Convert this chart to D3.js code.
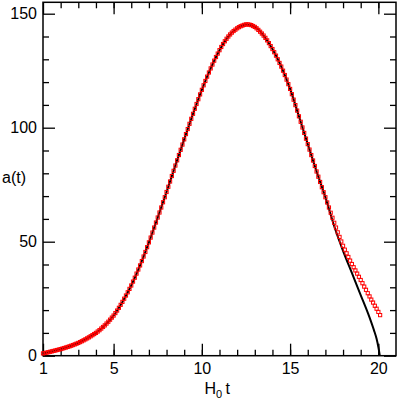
<!DOCTYPE html>
<html>
<head>
<meta charset="utf-8">
<script src="https://cdn.jsdelivr.net/npm/d3@7"></script>
<style>
  html, body { margin: 0; padding: 0; background: #fff; }
  svg { display: block; }
  text { font-family: "Liberation Sans", Arial, Helvetica, sans-serif; }
</style>
</head>
<body>
<svg id="chart" width="399" height="401"></svg>
<script>
// ---- data ----
// red markers: a(t) sampled every 0.1 in t, from t = 1.0 to 20.1
const redStart = 1.0;
const redStep = 0.1;
const redA = [
  1.0,1.17,1.35,1.53,1.71, 1.9,2.09,2.29,2.49,2.69,
  2.9,3.13,3.36,3.6,3.85, 4.1,4.38,4.67,4.97,5.28,
  5.6,5.97,6.35,6.75,7.17, 7.6,8.05,8.52,9.0,9.5,
  10.0,10.6,11.2,11.9,12.6, 13.3,14.1,14.9,15.8,16.7,
  17.6,18.7,19.8,21.0,22.3, 23.6,25.0,26.4,27.8,29.3,
  30.8,32.5,34.2,36.0,37.8, 39.6,41.5,43.5,45.5,47.6,
  49.7,51.8,54.0,56.2,58.4, 60.6,62.8,65.0,67.3,69.5,
  71.8,74.1,76.4,78.8,81.1, 83.4,85.7,88.0,90.3,92.6,
  94.9,97.2,99.4,101.7,103.9, 106.1,108.3,110.4,112.5,114.6,
  116.6,118.6,120.5,122.4,124.2, 126.0,127.7,129.4,131.0,132.5,
  134.0,135.4,136.7,137.9,139.0, 140.0,140.9,141.7,142.4,143.0,
  143.6,144.1,144.5,144.8,145.1, 145.3,145.3,145.2,145.0,144.6,
  144.2,143.6,142.9,142.1,141.3, 140.4,139.4,138.3,137.1,135.8,
  134.5,133.1,131.6,130.0,128.4, 126.8,125.0,123.1,121.1,119.1,
  117.0,114.7,112.3,109.9,107.5, 105.0,102.6,100.1,97.7,95.2,
  92.8,90.4,88.0,85.6,83.2, 80.8,78.5,76.2,73.9,71.7,
  69.5,67.2,65.0,62.7,60.5, 58.3,56.2,54.1,52.1,50.1,
  48.2,46.5,44.9,43.3,41.7, 40.2,38.8,37.4,36.0,34.6,
  33.2,31.8,30.3,28.9,27.4, 26.0,24.6,23.3,21.9,20.6,
  19.2,17.8
];

// black solid curve
const blackT = [1.0,1.5,2.0,2.5,3.0,3.5,4.0,4.5,5.0,5.5,6.0,6.5,7.0,7.5,8.0,8.5,9.0,9.5,
  10.0,10.5,11.0,11.5,12.0,12.5,13.0,13.5,14.0,14.5,15.0,15.5,16.0,16.5,17.0,17.5,
  18.0,18.5,19.0,19.5,19.75,19.9,20.0,20.05,20.08];
const blackA = [1.0,1.9,2.9,4.1,5.6,7.6,10.0,13.3,17.6,23.6,30.8,39.6,49.7,60.6,71.8,83.4,94.9,106.1,
  116.6,126.0,134.0,140.0,143.6,145.3,144.2,140.4,134.5,126.8,117.0,105.0,92.8,80.8,69.5,56.8,
  46.0,36.3,26.6,16.8,11.2,7.4,3.8,1.6,0.0];

// axes
const xDomain = [1, 21];
const yDomain = [0, 155];
const xMajor = [1, 5, 10, 15, 20];
const xMinor = d3.range(2, 21, 1);
const yMajor = [0, 50, 100, 150];
const yMinor = d3.range(10, 155, 10);
const xTitle = "H";
const xTitleSub = "0";
const xTitleRest = "t";
const yTitle = "a(t)";

// ---- drawing ----
const svg = d3.select("#chart");
const L = 43, R = 396, T = 2.3, B = 355.7;
const x = d3.scaleLinear().domain(xDomain).range([L, R]);
const y = d3.scaleLinear().domain(yDomain).range([B, T]);

const MAJ = 12, MIN = 6;
function styleAxis(g) {
  g.select(".domain").remove();
  g.selectAll("line").attr("stroke", "#000").attr("stroke-width", 1.3);
  g.selectAll("text").attr("fill", "#000").attr("font-size", 16)
    .attr("font-family", "'Liberation Sans', Arial, sans-serif");
}

// bottom
svg.append("g").attr("transform", `translate(0,${B})`)
  .call(d3.axisBottom(x).tickValues(xMinor).tickSize(-MIN).tickFormat(""))
  .call(styleAxis);
svg.append("g").attr("transform", `translate(0,${B})`)
  .call(d3.axisBottom(x).tickValues(xMajor).tickSize(-MAJ).tickPadding(7).tickFormat(d3.format("d")))
  .call(styleAxis);
// top
svg.append("g").attr("transform", `translate(0,${T})`)
  .call(d3.axisTop(x).tickValues(xMinor).tickSize(-MIN).tickFormat(""))
  .call(styleAxis);
svg.append("g").attr("transform", `translate(0,${T})`)
  .call(d3.axisTop(x).tickValues(xMajor).tickSize(-MAJ).tickFormat(""))
  .call(styleAxis);
// left
svg.append("g").attr("transform", `translate(${L},0)`)
  .call(d3.axisLeft(y).tickValues(yMinor.filter(v => v % 50 !== 0)).tickSize(-MIN).tickFormat(""))
  .call(styleAxis);
svg.append("g").attr("transform", `translate(${L},0)`)
  .call(d3.axisLeft(y).tickValues(yMajor).tickSize(-MAJ).tickPadding(6).tickFormat(d3.format("d")))
  .call(styleAxis);
// right
svg.append("g").attr("transform", `translate(${R},0)`)
  .call(d3.axisRight(y).tickValues(yMinor.filter(v => v % 50 !== 0)).tickSize(-MIN).tickFormat(""))
  .call(styleAxis);
svg.append("g").attr("transform", `translate(${R},0)`)
  .call(d3.axisRight(y).tickValues(yMajor).tickSize(-MAJ).tickFormat(""))
  .call(styleAxis);

// frame
svg.append("rect").attr("x", L).attr("y", T).attr("width", R - L).attr("height", B - T)
  .attr("fill", "none").attr("stroke", "#000").attr("stroke-width", 1.5);

// black curve
const blackData = blackT.map((t, i) => ({ t, a: blackA[i] }));
svg.append("path").datum(blackData)
  .attr("fill", "none").attr("stroke", "#000").attr("stroke-width", 2)
  .attr("d", d3.line().x(d => x(d.t)).y(d => y(d.a)).curve(d3.curveMonotoneX));

// red open squares
const redData = redA.map((a, i) => ({ t: redStart + i * redStep, a }));
const S = 3.2;
svg.append("g").selectAll("rect").data(redData).join("rect")
  .attr("x", d => x(d.t) - S / 2).attr("y", d => y(d.a) - S / 2)
  .attr("width", S).attr("height", S)
  .attr("fill", "none").attr("stroke", "#ff0000").attr("stroke-width", 1);

// titles
svg.append("text").attr("x", 2).attr("y", 183).attr("font-size", 16).attr("fill", "#000")
  .text(yTitle);
const xt = svg.append("text").attr("x", 204.5).attr("y", 393.5).attr("font-size", 16).attr("fill", "#000");
xt.append("tspan").text(xTitle);
xt.append("tspan").attr("font-size", 11).attr("dy", 4).text(xTitleSub);
xt.append("tspan").attr("dy", -4).text("\u2009" + xTitleRest);
</script>
</body>
</html>
